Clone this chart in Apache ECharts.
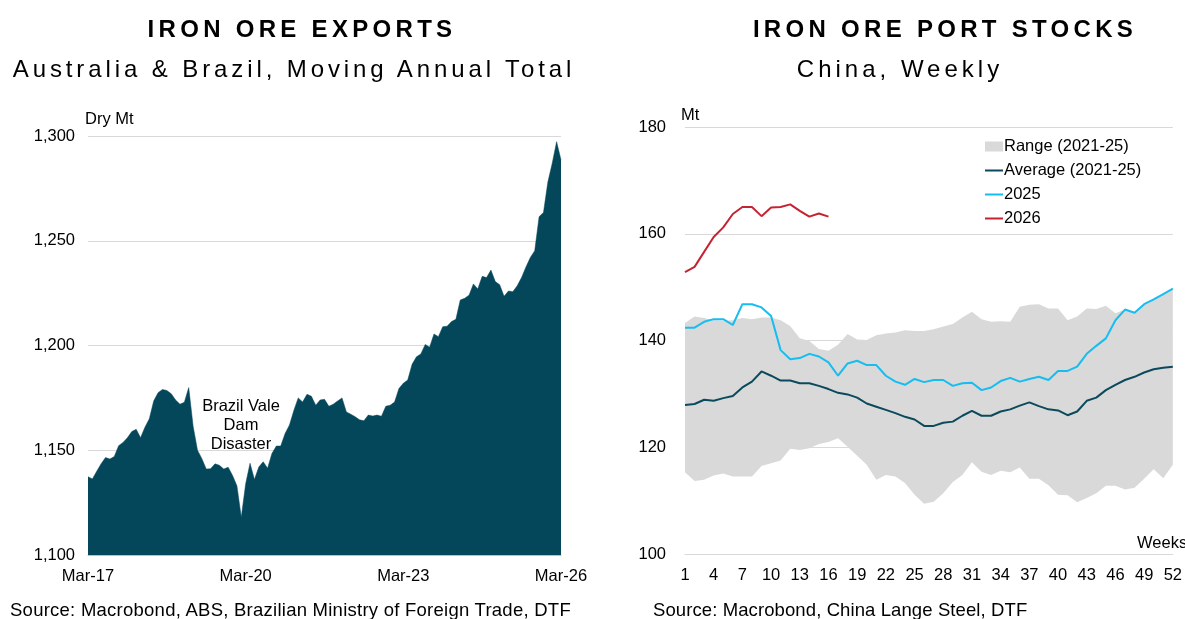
<!DOCTYPE html>
<html>
<head>
<meta charset="utf-8">
<title>Iron ore exports and port stocks</title>
<script src="https://cdn.jsdelivr.net/npm/echarts@6.0.0/dist/echarts.min.js"></script>
<style>
	html, body { margin: 0; padding: 0; background: #fff; }
	#wrap { position: relative; width: 1185px; height: 619px; }
	#main { position: absolute; left: 0; top: 0; width: 1185px; height: 619px; }
	#texts { position: absolute; left: 0; top: 0; width: 1185px; height: 619px; pointer-events: none; }
</style>
</head>
<body>
<div id="wrap">
	<div id="main"></div>
	<div id="texts"></div>
</div>
<script>
// ---- left: exports, Mar-17 .. Mar-26, monthly (Dry Mt)
var exportMonths = [];
var monNames = ['Jan','Feb','Mar','Apr','May','Jun','Jul','Aug','Sep','Oct','Nov','Dec'];
for (var y = 17; y <= 26; y++) {
	for (var m = 0; m < 12; m++) {
		if ((y == 17 && m < 2) || (y == 26 && m > 2)) continue;
		exportMonths.push(monNames[m] + '-' + y);
	}
}
var exportValues = [
	1137.4, 1136.3, 1140.0, 1143.6, 1146.5, 1145.8, 1147.0, 1152.2, 1153.7, 1156.0,
	1158.9, 1160.0, 1156.0, 1161.0, 1165.0, 1173.5, 1177.5, 1179.0, 1178.5, 1177.0,
	1174.0, 1172.0, 1172.9, 1179.9, 1161.5, 1150.0, 1146.0, 1141.0, 1141.2, 1143.5,
	1142.8, 1141.0, 1141.9, 1138.0, 1133.0, 1118.0, 1134.0, 1143.8, 1136.0, 1142.0,
	1144.5, 1141.4, 1148.5, 1152.0, 1152.0, 1158.0, 1162.0, 1169.0, 1175.0, 1173.0,
	1176.7, 1175.8, 1171.5, 1174.0, 1174.3, 1171.0, 1172.0, 1173.5, 1175.0, 1168.3,
	1167.2, 1166.0, 1164.5, 1164.1, 1166.8, 1166.3, 1166.8, 1166.2, 1171.0, 1171.5,
	1173.0, 1179.5, 1182.0, 1183.5, 1191.0, 1194.6, 1196.0, 1200.5, 1199.2, 1205.5,
	1204.2, 1209.0, 1209.2, 1211.4, 1212.5, 1221.7, 1222.5, 1224.0, 1229.4, 1227.0,
	1233.0, 1232.4, 1236.0, 1230.5, 1229.0, 1223.5, 1226.0, 1225.7, 1228.5, 1232.5,
	1237.5, 1242.0, 1245.2, 1261.5, 1263.5, 1278.0, 1287.0, 1297.3, 1288.5
];

// ---- right: port stocks, weeks 1..52 (Mt)
var weeks = [];
for (var w = 1; w <= 52; w++) weeks.push(String(w));
var rangeLow = [
	115.3, 113.7, 113.9, 114.7, 115.1, 114.5, 114.5, 114.5, 116.5, 117.0,
	117.5, 119.7, 119.5, 119.8, 120.6, 121.0, 121.7, 120.1, 118.4, 116.7,
	113.9, 114.8, 114.5, 113.3, 111.1, 109.4, 109.8, 111.4, 113.5, 114.8,
	117.2, 115.4, 114.8, 115.6, 115.3, 116.2, 114.1, 114.1, 112.9, 111.1,
	111.0, 109.7, 110.5, 111.4, 112.8, 112.8, 112.1, 112.4, 114.1, 115.9,
	114.2, 116.7
];
var rangeHigh = [
	143.3, 144.5, 144.2, 143.8, 143.7, 143.8, 144.2, 144.0, 144.3, 144.3,
	143.8, 142.7, 140.4, 139.9, 138.4, 138.1, 139.2, 141.2, 140.2, 140.1,
	141.0, 141.3, 141.5, 141.9, 141.8, 141.8, 142.1, 142.6, 143.1, 144.3,
	145.4, 144.0, 143.5, 143.6, 143.5, 146.3, 146.7, 146.8, 146.0, 146.0,
	143.8, 144.5, 146.0, 145.9, 146.5, 145.1, 145.8, 145.3, 146.8, 147.7,
	148.7, 149.7
];
var avgValues = [
	127.9, 128.1, 128.9, 128.7, 129.2, 129.6, 131.2, 132.3, 134.2, 133.4,
	132.5, 132.5, 132.0, 132.0, 131.5, 130.9, 130.2, 129.9, 129.3, 128.2,
	127.6, 127.0, 126.4, 125.7, 125.2, 124.0, 124.0, 124.6, 124.8, 125.9,
	126.8, 125.9, 125.9, 126.7, 127.1, 127.8, 128.4, 127.7, 127.1, 126.9,
	126.0, 126.7, 128.7, 129.3, 130.7, 131.7, 132.6, 133.2, 134.0, 134.6,
	134.9, 135.1
];
var values2025 = [
	142.4, 142.4, 143.5, 144.0, 144.0, 142.9, 146.8, 146.8, 146.2, 144.6,
	138.2, 136.5, 136.7, 137.5, 137.0, 135.9, 133.4, 135.7, 136.2, 135.4,
	135.4, 133.4, 132.3, 131.7, 132.8, 132.2, 132.6, 132.6, 131.5, 132.0,
	132.1, 130.7, 131.2, 132.4, 133.0, 132.3, 132.8, 133.2, 132.6, 134.3,
	134.3, 135.1, 137.5, 139.0, 140.4, 143.8, 145.8, 145.2, 146.8, 147.7,
	148.7, 149.7
];
var values2026 = [
	152.8, 153.8, 156.6, 159.4, 161.2, 163.7, 165.0, 165.0, 163.3, 164.9,
	165.0, 165.5, 164.3, 163.2, 163.8, 163.2
];

var FONT = 'Liberation Sans, Arial, sans-serif';
var GRID_COLOR = '#d9d9d9';
// thin line legend icon (degenerate corner points keep an 18x10 box)
var LINE_ICON = 'path://M0,0L0.01,0M0,4H18V6H0ZM18,10L17.99,10';

var rangeSpan = [];
for (var i = 0; i < rangeLow.length; i++) {
	rangeSpan.push(+(rangeHigh[i] - rangeLow[i]).toFixed(1));
}

var mainChart = echarts.init(document.getElementById('main'));
var option = {
	animation: false,
	textStyle: { fontFamily: FONT, color: '#000' },
	legend: {
		orient: 'vertical',
		left: 985,
		top: 138,
		itemWidth: 18,
		itemHeight: 10,
		itemGap: 7,
		padding: 0,
		textStyle: { fontFamily: FONT, fontSize: 16.5, color: '#000', padding: [0, 0, 0, -4] },
		data: [
			{ name: 'Range (2021-25)', icon: 'rect', itemStyle: { color: '#d9d9d9' } },
			{ name: 'Average (2021-25)', icon: LINE_ICON, itemStyle: { color: '#0b4a5c' } },
			{ name: '2025', icon: LINE_ICON, itemStyle: { color: '#16bdf0' } },
			{ name: '2026', icon: LINE_ICON, itemStyle: { color: '#c62332' } }
		]
	},
	grid: [
		{ left: 88, right: 624, top: 136, bottom: 64 },
		{ left: 685, right: 5, top: 127, bottom: 65 }
	],
	xAxis: [
		{
			gridIndex: 0,
			type: 'category',
			boundaryGap: false,
			data: exportMonths,
			axisLine: { lineStyle: { color: '#bfbfbf' } },
			axisTick: { show: false },
			axisLabel: { interval: 35, margin: 13, fontSize: 16.5, color: '#000', fontFamily: FONT }
		},
		{
			gridIndex: 1,
			type: 'category',
			boundaryGap: false,
			data: weeks,
			axisLine: { lineStyle: { color: '#d9d9d9' } },
			axisTick: { show: false },
			axisLabel: { interval: 2, margin: 13, fontSize: 16.5, color: '#000', fontFamily: FONT }
		}
	],
	yAxis: [
		{
			gridIndex: 0,
			type: 'value',
			min: 1100, max: 1300, interval: 50,
			name: 'Dry Mt',
			nameLocation: 'end',
			nameGap: 8,
			nameTextStyle: { align: 'left', fontSize: 16.5, color: '#000', fontFamily: FONT, padding: [0, 0, 0, -3] },
			axisLine: { show: false },
			axisTick: { show: false },
			splitLine: { lineStyle: { color: GRID_COLOR } },
			axisLabel: {
				margin: 13, fontSize: 16.5, color: '#000', fontFamily: FONT,
				formatter: function (v) { return v.toLocaleString('en-US'); }
			}
		},
		{
			gridIndex: 1,
			type: 'value',
			min: 100, max: 180, interval: 20,
			name: 'Mt',
			nameLocation: 'end',
			nameGap: 3,
			nameTextStyle: { align: 'left', fontSize: 16.5, color: '#000', fontFamily: FONT, padding: [0, 0, 0, -4] },
			axisLine: { show: false },
			axisTick: { show: false },
			splitLine: { lineStyle: { color: GRID_COLOR } },
			axisLabel: { margin: 19, fontSize: 16.5, color: '#000', fontFamily: FONT }
		}
	],
	graphic: [
		{
			type: 'text',
			x: 241, y: 397,
			style: {
				text: 'Brazil Vale\nDam\nDisaster',
				textAlign: 'center',
				fill: '#000',
				font: '16.5px ' + FONT,
				lineHeight: 19
			}
		},
		{
			type: 'text',
			x: 1137, y: 535,
			style: { text: 'Weeks', fill: '#000', font: '16.5px ' + FONT }
		}
	],
	series: [
		{
			name: 'Exports',
			type: 'line',
			xAxisIndex: 0, yAxisIndex: 0,
			symbol: 'none',
			lineStyle: { width: 0.5, color: '#04465a' },
			areaStyle: { color: '#04465a', opacity: 1, origin: 'start' },
			data: exportValues
		},
		{
			name: 'rangeBase',
			type: 'line',
			xAxisIndex: 1, yAxisIndex: 1,
			stack: 'range',
			symbol: 'none',
			lineStyle: { opacity: 0 },
			data: rangeLow
		},
		{
			name: 'Range (2021-25)',
			type: 'line',
			xAxisIndex: 1, yAxisIndex: 1,
			stack: 'range',
			symbol: 'none',
			lineStyle: { opacity: 0 },
			itemStyle: { color: '#d9d9d9' },
			areaStyle: { color: '#d9d9d9', opacity: 1 },
			data: rangeSpan
		},
		{
			name: 'Average (2021-25)',
			type: 'line',
			xAxisIndex: 1, yAxisIndex: 1,
			symbol: 'none',
			itemStyle: { color: '#0b4a5c' },
			lineStyle: { width: 2, color: '#0b4a5c' },
			data: avgValues
		},
		{
			name: '2025',
			type: 'line',
			xAxisIndex: 1, yAxisIndex: 1,
			symbol: 'none',
			itemStyle: { color: '#16bdf0' },
			lineStyle: { width: 2, color: '#16bdf0' },
			data: values2025
		},
		{
			name: '2026',
			type: 'line',
			xAxisIndex: 1, yAxisIndex: 1,
			symbol: 'none',
			itemStyle: { color: '#c62332' },
			lineStyle: { width: 2, color: '#c62332' },
			data: values2026
		}
	]
};
mainChart.setOption(option);

// headings and sources: svg renderer so each text can carry letter spacing
var textChart = echarts.init(document.getElementById('texts'), null, { renderer: 'svg' });
var heading = { fontFamily: FONT, fontSize: 24, fontWeight: 'bold', color: '#000' };
var subHeading = { fontFamily: FONT, fontSize: 24, fontWeight: 'normal', color: '#000' };
var sourceStyle = { fontFamily: FONT, fontSize: 18.5, fontWeight: 'normal', color: '#000' };
var spacing = {
	'IRON ORE EXPORTS': 4.3,
	'Australia & Brazil, Moving Annual Total': 3.9,
	'IRON ORE PORT STOCKS': 4.3,
	'China, Weekly': 4,
	'Source: Macrobond, ABS, Brazilian Ministry of Foreign Trade, DTF': 0.25,
	'Source: Macrobond, China Lange Steel, DTF': 0.1
};
textChart.setOption({
	animation: false,
	title: [
		{ text: 'IRON ORE EXPORTS', left: 302, top: 16, textAlign: 'center', padding: 0, textStyle: heading },
		{ text: 'Australia & Brazil, Moving Annual Total', left: 294, top: 56, textAlign: 'center', padding: 0, textStyle: subHeading },
		{ text: 'IRON ORE PORT STOCKS', left: 945, top: 16, textAlign: 'center', padding: 0, textStyle: heading },
		{ text: 'China, Weekly', left: 900, top: 56, textAlign: 'center', padding: 0, textStyle: subHeading },
		{ text: 'Source: Macrobond, ABS, Brazilian Ministry of Foreign Trade, DTF', left: 10, top: 600, padding: 0, textStyle: sourceStyle },
		{ text: 'Source: Macrobond, China Lange Steel, DTF', left: 653, top: 600, padding: 0, textStyle: sourceStyle }
	]
});

var applySpacing = function () {
	var nodes = document.querySelectorAll('#texts svg text');
	for (var k = 0; k < nodes.length; k++) {
		var s = spacing[nodes[k].textContent];
		if (s) nodes[k].style.letterSpacing = s + 'px';
	}
};
applySpacing();
textChart.on('finished', applySpacing);
</script>
</body>
</html>
